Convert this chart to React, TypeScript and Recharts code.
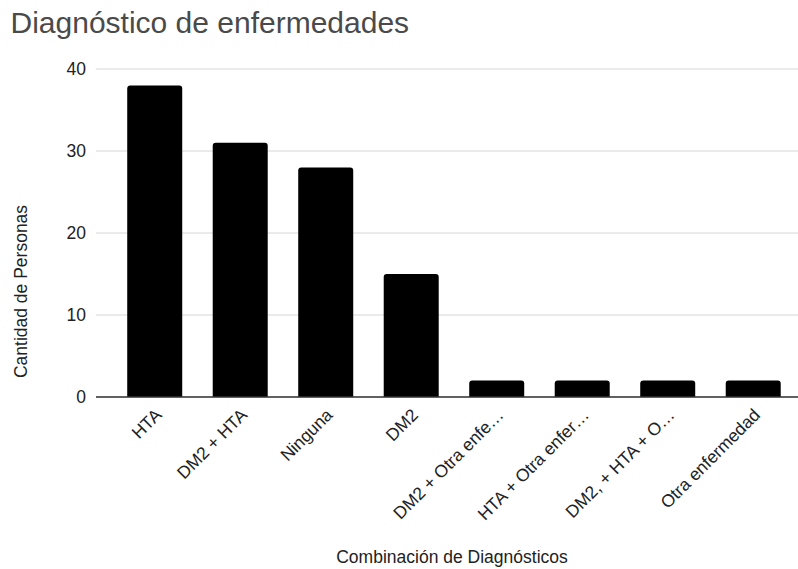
import React from "react";
import { BarChart, Bar, XAxis, YAxis, CartesianGrid } from "recharts";

const categories = [
  "HTA",
  "DM2 + HTA",
  "Ninguna",
  "DM2",
  "DM2 + Otra enfe…",
  "HTA + Otra enfer…",
  "DM2, + HTA + O…",
  "Otra enfermedad",
];
const personas = [38, 31, 28, 15, 2, 2, 2, 2];
const yTicks = [0, 10, 20, 30, 40];

const title = "Diagnóstico de enfermedades";
const xTitle = "Combinación de Diagnósticos";
const yTitle = "Cantidad de Personas";

const data = categories.map((c, i) => ({ name: c, value: personas[i] }));

const FONT = "'Liberation Sans', Arial, sans-serif";

const XTick = (props: any) => {
  const { x, y, payload } = props;
  return (
    <g transform={`translate(${x + 8}, ${y + 19})`}>
      <text
        x={0}
        y={0}
        textAnchor="end"
        transform="rotate(-45)"
        fill="#222"
        fontSize={17.5}
        fontFamily={FONT}
      >
        {payload.value}
      </text>
    </g>
  );
};

export default function App() {
  return (
    <div style={{ position: "absolute", left: 0, top: 0, width: 798, height: 569, background: "#fff" }}>
      <BarChart
        width={798}
        height={569}
        data={data}
        margin={{ top: 69, right: 0, bottom: 52, left: 36 }}
        barCategoryGap="17.8%"
      >
        <CartesianGrid vertical={false} stroke="#d6d6d6" strokeWidth={1} />
        <XAxis
          dataKey="name"
          height={120}
          interval={0}
          tickLine={false}
          tickSize={0}
          tickMargin={0}
          axisLine={{ stroke: "#333", strokeWidth: 1.5 }}
          padding={{ left: 16, right: 2 }}
          tick={<XTick />}
        />
        <YAxis
          width={60}
          domain={[0, 40]}
          ticks={yTicks}
          interval={0}
          tickLine={false}
          axisLine={false}
          tickSize={0}
          tickMargin={10}
          tick={{ fill: "#222", fontSize: 17.5, fontFamily: FONT }}
        />
        <Bar dataKey="value" fill="#000" radius={[3, 3, 0, 0]} isAnimationActive={false} />
      </BarChart>
      <svg
        width={798}
        height={569}
        style={{ position: "absolute", left: 0, top: 0, pointerEvents: "none" }}
      >
        <text x={10.5} y={33} fill="#4a4a4a" fontSize={30} fontFamily={FONT}>
          {title}
        </text>
        <text x={452} y={563} textAnchor="middle" fill="#222" fontSize={17.5} fontFamily={FONT}>
          {xTitle}
        </text>
        <text
          x={27}
          y={291.5}
          textAnchor="middle"
          transform="rotate(-90, 27, 291.5)"
          fill="#222"
          fontSize={17.5}
          fontFamily={FONT}
        >
          {yTitle}
        </text>
      </svg>
    </div>
  );
}
